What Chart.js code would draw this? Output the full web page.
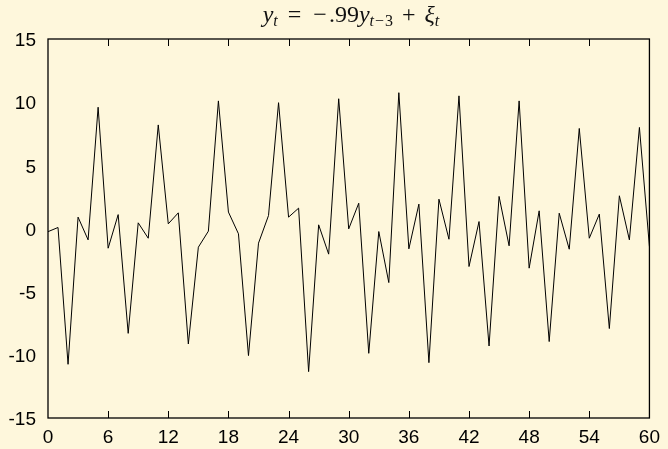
<!DOCTYPE html>
<html>
<head>
<meta charset="utf-8">
<script src="https://cdn.jsdelivr.net/npm/chart.js@4/dist/chart.umd.min.js"></script>
<style>
  html, body { margin: 0; padding: 0; background: #fef7dc; }
  #wrap { position: relative; width: 668px; height: 449px; }
  #ttl {
    position: absolute; left: 48px; width: 606px; top: 2px;
    text-align: center; white-space: nowrap; color: #111;
    font-family: "Liberation Serif", serif; font-size: 24px; line-height: 24px;
  }
  #ttl sub { font-size: 16px; vertical-align: -4px; line-height: 0; }
  #ttl .rel { margin: 0 10px; }
  #ttl .bin { margin: 0 9px; }
  #ttl .neg { margin: 0 2px; }
  #ttl sub .neg { margin: 0 1px; }
</style>
</head>
<body>
<div id="wrap">
  <canvas id="chart"></canvas>
  <div id="ttl"><i>y</i><sub><i>t</i></sub><span class="rel">=</span><span class="neg">−</span>.99<i>y</i><sub><i>t</i><span class="neg">−</span>3</sub><span class="bin">+</span><i>ξ</i><sub><i>t</i></sub></div>
</div>
<script>
// time steps and simulated series
const steps = [0, 1, 2, 3, 4, 5, 6, 7, 8, 9, 10, 11, 12, 13, 14, 15, 16, 17, 18, 19, 20,
  21, 22, 23, 24, 25, 26, 27, 28, 29, 30, 31, 32, 33, 34, 35, 36, 37, 38, 39, 40,
  41, 42, 43, 44, 45, 46, 47, 48, 49, 50, 51, 52, 53, 54, 55, 56, 57, 58, 59, 60];
const yValues = [-0.25, 0.08, -10.75, 0.9, -0.9, 9.6, -1.56, 1.1, -8.3, 0.45, -0.77,
  8.2, 0.37, 1.24, -9.14, -1.48, -0.21, 10.1, 1.3, -0.42, -10.06,
  -1.16, 1.03, 9.96, 0.9, 1.61, -11.33, 0.29, -2.03, 10.27, -0.03,
  2.0, -9.88, -0.24, -4.28, 10.75, -1.61, 1.93, -10.62, 2.32, -0.85,
  10.5, -3.01, 0.55, -9.3, 2.54, -1.37, 10.1, -3.14, 1.4, -8.95,
  1.21, -1.64, 7.92, -0.77, 1.14, -7.92, 2.59, -0.9, 8.0, -1.43];
const xTickStep = 6;
const yTickStep = 5;

const tickFont = { family: '"Liberation Sans", Arial, sans-serif', size: 19 };

// box around the plot with inward tick marks on top and bottom
const frame = {
  id: 'frame',
  afterDraw(chart) {
    const { ctx, chartArea: a, scales } = chart;
    ctx.save();
    ctx.strokeStyle = '#000';
    ctx.lineWidth = 1;
    scales.x.ticks.forEach((t) => {
      if (t.value <= scales.x.min || t.value >= scales.x.max) return;
      const px = Math.round(scales.x.getPixelForValue(t.value)) + 0.5;
      ctx.beginPath();
      ctx.moveTo(px, a.bottom);
      ctx.lineTo(px, a.bottom - 7);
      ctx.moveTo(px, a.top);
      ctx.lineTo(px, a.top + 7);
      ctx.stroke();
    });
    ctx.lineWidth = 1.3;
    ctx.strokeRect(a.left, a.top, a.right - a.left, a.bottom - a.top);
    ctx.restore();
  }
};

new Chart(document.getElementById('chart'), {
  type: 'line',
  data: {
    datasets: [{
      data: steps.map((t, i) => ({ x: t, y: yValues[i] })),
      borderColor: '#000',
      borderWidth: 1,
      pointRadius: 0,
      tension: 0,
      fill: false,
    }],
  },
  options: {
    responsive: true,
    maintainAspectRatio: false,
    devicePixelRatio: 1,
    animation: false,
    layout: { padding: { top: 39, right: 14, bottom: 0, left: 0 } },
    plugins: { legend: { display: false }, tooltip: { enabled: false } },
    scales: {
      x: {
        type: 'linear',
        min: 0,
        max: 60,
        grid: { display: false, drawTicks: false, tickLength: 0 },
        border: { display: false },
        ticks: { stepSize: xTickStep, color: '#000', font: tickFont, padding: 8, maxRotation: 0 },
        afterFit: (s) => { s.height = 31; },
      },
      y: {
        min: -15,
        max: 15,
        grid: { display: false, drawTicks: false, tickLength: 0 },
        border: { display: false },
        ticks: { stepSize: yTickStep, color: '#000', font: tickFont, padding: 12, labelOffset: 2 },
        afterFit: (s) => { s.width = 48; },
      },
    },
  },
  plugins: [frame],
});
</script>
</body>
</html>
